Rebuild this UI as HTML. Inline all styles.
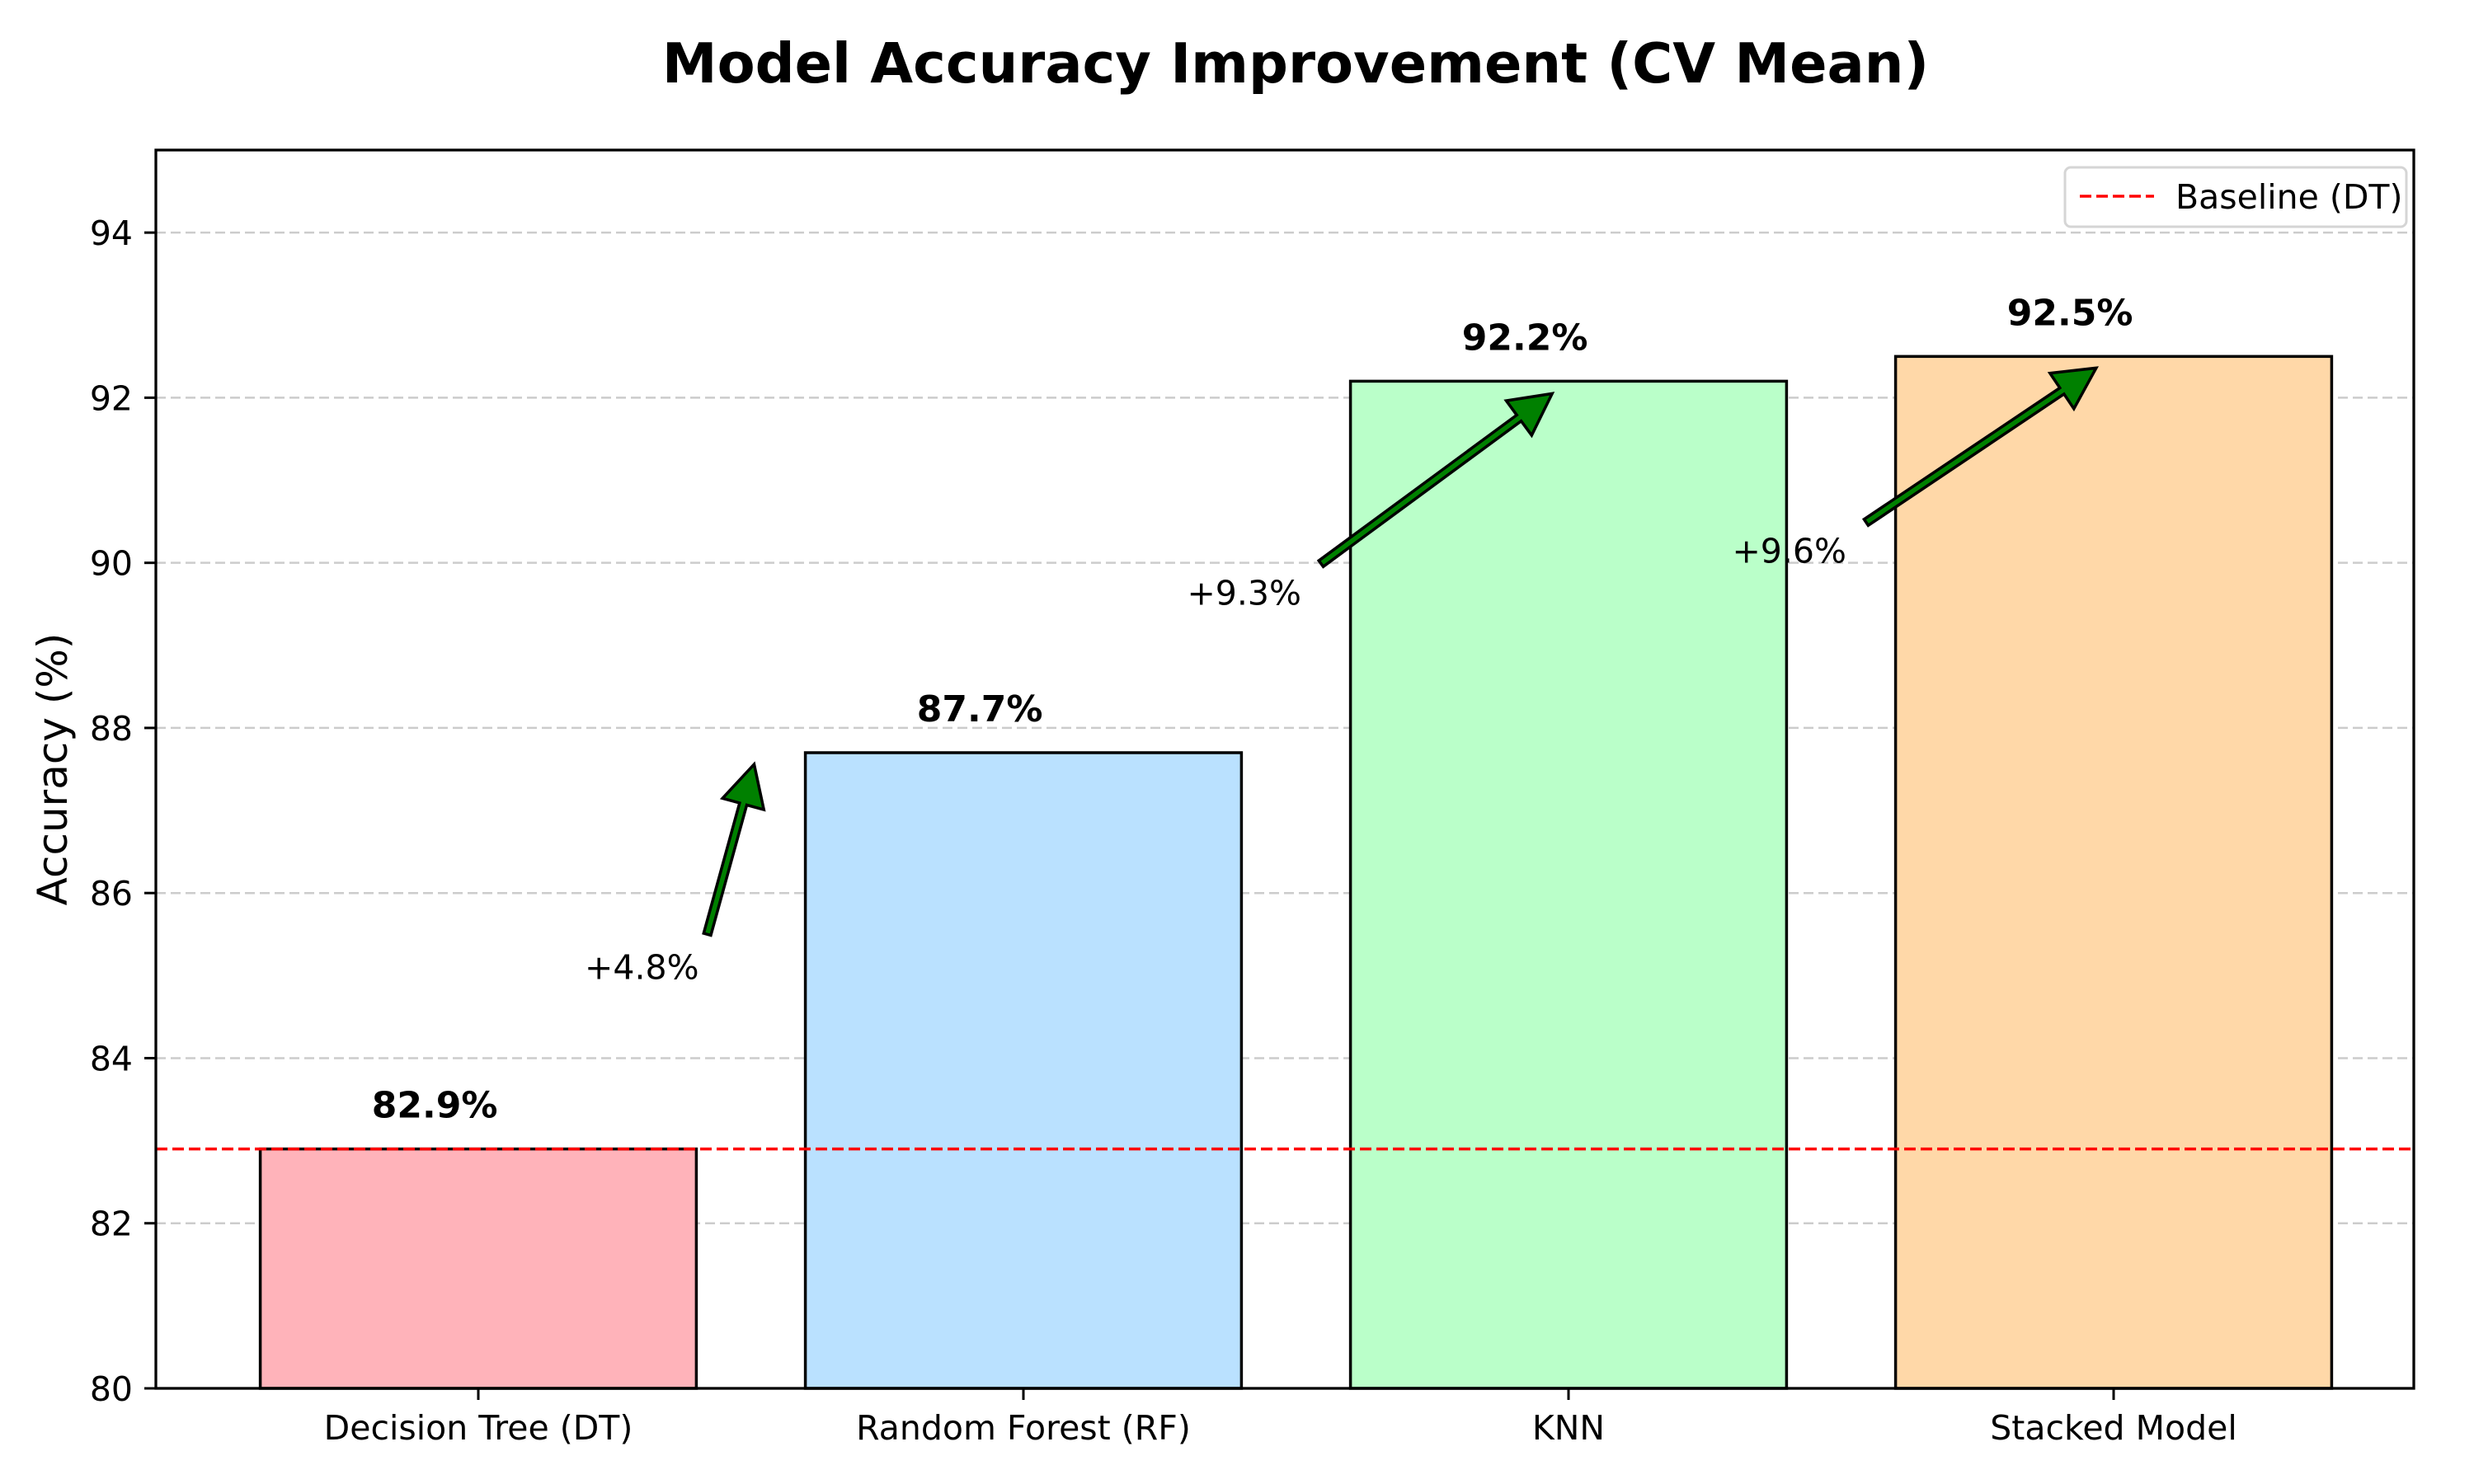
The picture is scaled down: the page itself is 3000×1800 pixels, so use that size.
<!DOCTYPE html>
<html><head><meta charset="utf-8"><style>
html,body{margin:0;padding:0;background:#fff;}
svg{display:block;font-family:"DejaVu Sans","Liberation Sans",sans-serif;}
</style></head><body>
<svg id="chart" width="3000" height="1800" viewBox="0 0 3000 1800" xmlns="http://www.w3.org/2000/svg">
<rect x="0" y="0" width="3000" height="1800" fill="#fff"/>
<text x="1571" y="100" font-size="67" font-weight="bold" text-anchor="middle">Model Accuracy Improvement (CV Mean)</text>
<g id="grid"></g><g id="bars"></g><g id="arrows"></g><g id="labels"></g><g id="axes"></g>
</svg>
<script>
const categories = ["Decision Tree (DT)", "Random Forest (RF)", "KNN", "Stacked Model"];
const accuracies = [82.9, 87.7, 92.2, 92.5];
const barColors = ["#ffb3ba", "#bae1ff", "#baffc9", "#ffd8a8"];
const yTicks = [80, 82, 84, 86, 88, 90, 92, 94];
const baseline = 82.9;
const gainLabels = ["+4.8%", "+9.3%", "+9.6%"];
const arrowTipX = [0.506, 1.97, 2.968];
const arrowTipY = [87.56, 92.05, 92.36];
const arrowTailX = [0.42, 1.546, 2.546];
const arrowTailY = [85.5, 89.99, 90.49];
const gainTextX = [0.30, 1.405, 2.405];
const gainTextY = [85.1, 89.63, 90.14];

const L=189,R=2927,T=182,B=1684,yMin=80,yMax=95;
const xs=i=>580+i*661;
const ys=v=>B-(v-yMin)/(yMax-yMin)*(B-T);
const NS="http://www.w3.org/2000/svg";
function mk(tag,attrs,parent,text){const e=document.createElementNS(NS,tag);for(const k in attrs)e.setAttribute(k,attrs[k]);if(text!==undefined)e.textContent=text;document.getElementById(parent).appendChild(e);return e;}

yTicks.forEach(t=>{
  const g=mk('line',{x1:L,x2:R,y1:ys(t),y2:ys(t),stroke:'#cccccc','stroke-width':2.5,'stroke-dasharray':'12 6'},'grid');
  
  
});
const bw=0.8*661;
accuracies.forEach((v,i)=>{
  const r=mk('rect',{x:xs(i)-bw/2,y:ys(v),width:bw,height:ys(yMin)-ys(v),fill:barColors[i],stroke:'#000','stroke-width':3.5},'bars');
  
  
  const t=mk('text',{x:xs(i-0.08),y:ys(v+0.3)-8,'font-size':44,'font-weight':'bold','text-anchor':'middle'},'labels',v.toFixed(1)+'%');
  
  
});
const bl=mk('line',{x1:L,x2:R,y1:ys(baseline),y2:ys(baseline),stroke:'#ff0000','stroke-width':3.5,'stroke-dasharray':'14 6'},'bars');



gainLabels.forEach((lab,i)=>{
  const x1=xs(arrowTailX[i]),y1=ys(arrowTailY[i]),x2=xs(arrowTipX[i]),y2=ys(arrowTipY[i]);
  const dx=x2-x1,dy=y2-y1,len=Math.hypot(dx,dy),ux=dx/len,uy=dy/len,px=-uy,py=ux;
  const hl=50,hw=26,sw=4.5;
  const bx=x2-ux*hl,by=y2-uy*hl;
  const pts=[[x1+px*sw,y1+py*sw],[bx+px*sw,by+py*sw],[bx+px*hw,by+py*hw],[x2,y2],[bx-px*hw,by-py*hw],[bx-px*sw,by-py*sw],[x1-px*sw,y1-py*sw]];
  const p=mk('polygon',{points:pts.map(q=>q.join(',')).join(' '),fill:'#008000',stroke:'#000','stroke-width':3.5,'stroke-linejoin':'miter'},'arrows');
  
  
  const t=mk('text',{x:xs(gainTextX[i]),y:ys(gainTextY[i])+14,'font-size':41,'text-anchor':'middle'},'labels',lab);
  
  
});

const fr=mk('rect',{x:L,y:T,width:R-L,height:B-T,fill:'none',stroke:'#000','stroke-width':3.3},'axes');


yTicks.forEach(t=>{
  const tk=mk('line',{x1:L-14,x2:L,y1:ys(t),y2:ys(t),stroke:'#000','stroke-width':3},'axes');
  
  
  const tl=mk('text',{x:161,y:ys(t)+15,'font-size':41,'text-anchor':'end'},'axes',String(t));
  
  
});
categories.forEach((c,i)=>{
  const tk=mk('line',{x1:xs(i),x2:xs(i),y1:B,y2:B+14,stroke:'#000','stroke-width':3},'axes');
  
  
  const tl=mk('text',{x:xs(i),y:B+62,'font-size':41,'text-anchor':'middle'},'axes',c);
  
  
});
const yl=mk('text',{x:0,y:0,'font-size':50,'text-anchor':'middle',transform:'translate(81,'+((T+B)/2)+') rotate(-90)'},'axes','Accuracy (%)');


const lg=mk('rect',{x:2504,y:203,width:414,height:72,rx:7,fill:'#fff',stroke:'#d5d5d5','stroke-width':3},'axes');


const ll=mk('line',{x1:2522,x2:2612,y1:238,y2:238,stroke:'#ff0000','stroke-width':3.5,'stroke-dasharray':'14 6'},'axes');


const lt=mk('text',{x:2638,y:253,'font-size':41},'axes','Baseline (DT)');


</script>
</body></html>
